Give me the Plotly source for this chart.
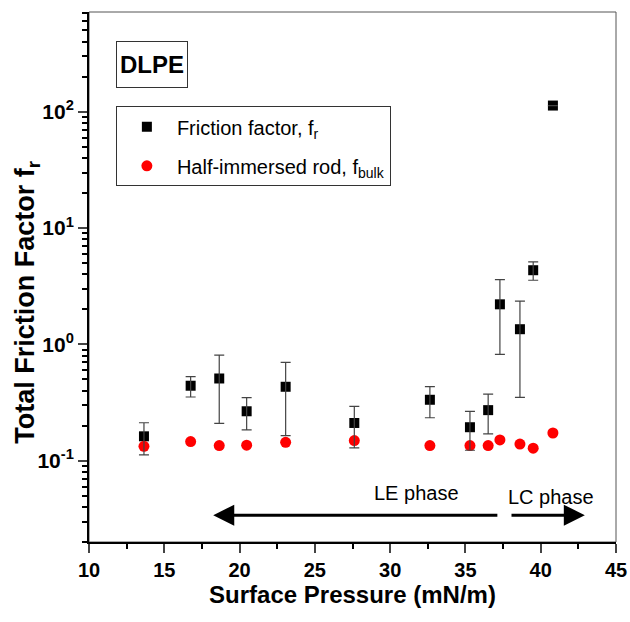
import plotly.graph_objects as go
import numpy as np

# Friction factor f_r (black squares) with symmetric error bars
fr_pressure = [13.65, 16.75, 18.65, 20.47, 23.06, 27.62, 32.64, 35.30, 36.51, 37.29, 38.62, 39.50, 40.81]
fr_value    = [0.162, 0.441, 0.509, 0.266, 0.432, 0.211, 0.334, 0.194, 0.272, 2.21, 1.35, 4.34, 113.0]
fr_error    = [0.050, 0.088, 0.300, 0.082, 0.268, 0.082, 0.100, 0.071, 0.102, 1.39, 1.00, 0.78, 0.0]

# Half-immersed rod f_bulk (red circles)
bulk_pressure = [13.65, 16.75, 18.65, 20.47, 23.06, 27.62, 32.64, 35.30, 36.51, 37.29, 38.62, 39.50, 40.81]
bulk_value    = [0.133, 0.146, 0.135, 0.136, 0.144, 0.149, 0.135, 0.135, 0.135, 0.151, 0.139, 0.128, 0.173]

x_ticks = [10, 15, 20, 25, 30, 35, 40, 45]
y_ticks = [0.1, 1, 10, 100]
y_ticktext = ["10<sup>-1</sup>", "10<sup>0</sup>", "10<sup>1</sup>", "10<sup>2</sup>"]

FONT = "Liberation Sans, Arial, sans-serif"

fig = go.Figure()
fig.add_trace(go.Scatter(
    x=fr_pressure, y=fr_value, mode="markers",
    name="Friction factor, f<sub>r</sub>",
    marker=dict(symbol="square", size=10, color="black"),
    legendgroup="a",
))
fig.add_trace(go.Scatter(
    x=bulk_pressure, y=bulk_value, mode="markers",
    name="Half-immersed rod, f<sub>bulk</sub>",
    marker=dict(symbol="circle", size=11, color="#ff0000"),
    legendgroup="b",
))
fig.add_trace(go.Scatter(
    x=fr_pressure, y=fr_value, mode="markers",
    marker=dict(size=1, color="rgba(0,0,0,0)"),
    error_y=dict(type="data", array=fr_error, visible=True,
                 color="#444444", thickness=1.2, width=5),
    showlegend=False, hoverinfo="skip",
))

# plot frame (thin grey top/right border)
fig.add_shape(type="rect", xref="paper", yref="paper", x0=0, y0=0, x1=1, y1=1,
              line=dict(color="#555555", width=1), layer="below")

# phase arrows and labels (y in log10 units on a log axis)
fig.add_annotation(x=18.25, y=np.log10(0.034), ax=37.22, ay=np.log10(0.034),
                   xref="x", yref="y", axref="x", ayref="y", text="",
                   showarrow=True, arrowhead=2, arrowsize=1.4, arrowwidth=3, arrowcolor="black")
fig.add_annotation(x=42.93, y=np.log10(0.034), ax=37.96, ay=np.log10(0.034),
                   xref="x", yref="y", axref="x", ayref="y", text="",
                   showarrow=True, arrowhead=2, arrowsize=1.4, arrowwidth=3, arrowcolor="black")
fig.add_annotation(x=31.75, y=np.log10(0.0528), xref="x", yref="y", text="LE phase",
                   showarrow=False, xanchor="center", yanchor="middle",
                   font=dict(family=FONT, size=20, color="black"))
fig.add_annotation(x=40.68, y=np.log10(0.0488), xref="x", yref="y", text="LC phase",
                   showarrow=False, xanchor="center", yanchor="middle",
                   font=dict(family=FONT, size=20, color="black"))

# DLPE label box
fig.add_annotation(x=(151.7 - 89) / 527, y=1 - (65 - 12.3) / 530, xref="paper", yref="paper",
                   text="<b>DLPE</b>", showarrow=False, xanchor="center", yanchor="middle",
                   font=dict(family=FONT, size=24, color="black"),
                   bordercolor="#333333", borderwidth=1, borderpad=0,
                   width=70, height=45, bgcolor="white")

# y axis title
fig.add_annotation(x=(27 - 89) / 527, y=1 - (302 - 12.3) / 530, xref="paper", yref="paper",
                   text="<b>Total Friction Factor f<sub>r</sub></b>",
                   showarrow=False, textangle=-90, xanchor="center", yanchor="middle",
                   font=dict(family=FONT, size=27, color="black"))

fig.update_xaxes(
    range=[10, 45], tickvals=x_ticks, ticks="outside", ticklen=9, tickwidth=2,
    showline=True, linecolor="black", linewidth=2, showgrid=False, zeroline=False,
    minor=dict(dtick=2.5, ticks="outside", ticklen=5, tickwidth=2, tickcolor="black"),
    tickfont=dict(family=FONT, size=20, color="black", weight="bold"),
    title=dict(text="<b>Surface Pressure (mN/m)</b>", font=dict(family=FONT, size=24, color="black"), standoff=4),
    automargin=False,
)
fig.update_yaxes(
    type="log", range=[np.log10(0.02), np.log10(720)], tickvals=y_ticks, ticktext=y_ticktext,
    ticks="outside", ticklen=9, tickwidth=2,
    showline=True, linecolor="black", linewidth=2, showgrid=False, zeroline=False,
    minor=dict(dtick="D1", ticks="outside", ticklen=5, tickwidth=1.5, tickcolor="black"),
    tickfont=dict(family=FONT, size=21, color="black", weight="bold"),
    automargin=False,
)

fig.update_layout(
    width=630, height=622,
    margin=dict(l=89, r=14, t=12, b=80),
    plot_bgcolor="white", paper_bgcolor="white",
    legend=dict(x=0.051, y=0.822, xanchor="left", yanchor="top",
                font=dict(family=FONT, size=20, color="black"),
                bordercolor="#333333", borderwidth=1, bgcolor="white",
                itemwidth=50, tracegroupgap=10, traceorder="grouped"),
)

fig.write_html("out.html")
